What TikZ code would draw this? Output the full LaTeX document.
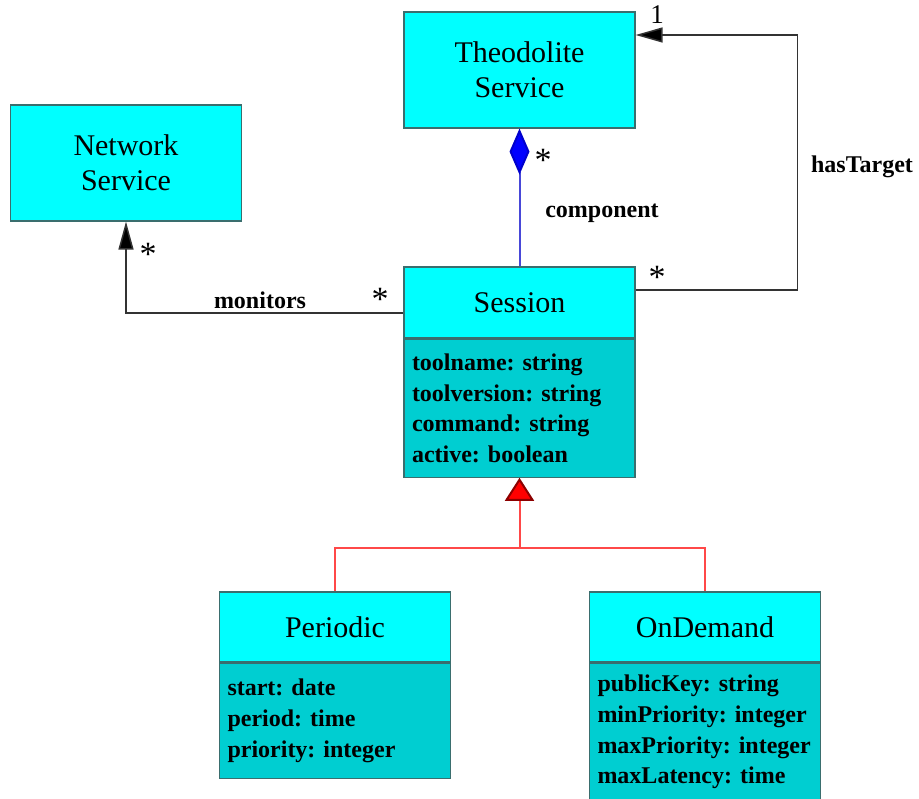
\documentclass[tikz,border=0pt]{standalone}
\usepackage{fontspec}
\setmainfont{Liberation Serif}
\usepackage[HTML]{xcolor}
\usetikzlibrary{positioning, arrows.meta}
\frenchspacing
\hyphenpenalty=10000

\definecolor{headcyan}{HTML}{00FFFF}
\definecolor{attrcyan}{HTML}{00CED1}
\definecolor{boxedge}{HTML}{3A6E6E}
\definecolor{complink}{HTML}{4848D8}
\definecolor{genlink}{HTML}{FF4848}

\tikzset{
  classhead/.style={draw=boxedge, line width=1.2pt, fill=headcyan, minimum width=231pt,
    align=center, font=\fontsize{30}{35}\selectfont, inner sep=0pt},
  classattr/.style={draw=boxedge, line width=1.2pt, fill=attrcyan, text width=219pt,
    inner xsep=6pt, inner ysep=0pt, align=left, anchor=north,
    font=\fontsize{24}{30.7}\selectfont\bfseries},
  assoc/.style={line width=1.5pt, draw=black!80},
  mult/.style={font=\fontsize{34}{34}\selectfont, inner sep=0pt},
  rolename/.style={font=\fontsize{24}{24}\selectfont\bfseries, inner sep=0pt}
}

\begin{document}
\begin{tikzpicture}[x=1pt, y=-1pt]
\useasboundingbox (0,0) rectangle (919,799);

% classes
\node[classhead, minimum height=116pt] (theo) at (519.5,70) {Theodolite\\Service};
\node[classhead, minimum height=116pt] (net) at (126,163) {Network\\Service};

\node[classhead, minimum height=71pt] (sess) at (519.5,302.5) {Session};
\node[classattr, minimum height=138pt] (sessattr) at (sess.south)
  {\hspace{2pt}toolname: string\\\hspace{2pt}toolversion: string\\\hspace{2pt}command: string\\\hspace{2pt}active: boolean};

\node[classhead, minimum height=70pt] (per) at (335,627) {Periodic};
\node[classattr, minimum height=115pt] (perattr) at (per.south)
  {\hspace{2pt}start: date\\\hspace{2pt}period: time\\\hspace{2pt}priority: integer};

\node[classhead, minimum height=70pt] (ond) at (705,627) {OnDemand};
\node[classattr, minimum height=138pt] (ondattr) at (ond.south)
  {\hspace{2pt}publicKey: string\\\hspace{2pt}minPriority: integer\\\hspace{2pt}maxPriority: integer\\\hspace{2pt}maxLatency: time};

% composition
\draw[line width=2pt, draw=complink, -{Diamond[length=46pt, width=20pt, fill=blue, color=blue!80!black]}]
  (sess.north) -- (theo.south);
\node[mult] at (543,160) {*};
\node[rolename] at (602,213) {component};

% hasTarget
\draw[assoc, -{Triangle[length=27pt, width=15pt, fill=black]}]
  ([yshift=12.5pt]sess.east) -- ++(162,0) |- ([yshift=35pt]theo.east);
\node[mult, font=\fontsize{27}{27}\selectfont] at (657,15) {1};
\node[mult] at (657,277) {*};
\node[rolename] at (862,167) {hasTarget};

% monitors
\draw[assoc, -{Triangle[length=28pt, width=15pt, fill=black]}]
  ([yshift=-10.5pt]sess.west) -| (net.south);
\node[mult] at (148,254) {*};
\node[mult] at (380,299) {*};
\node[rolename] at (260,300) {monitors};

% generalization
\coordinate (fork) at ([yshift=-70pt]sessattr.south);
\draw[line width=2pt, draw=genlink] (per.north) |- (fork) -| (ond.north);
\draw[line width=2pt, draw=genlink, -{Triangle[length=23pt, width=29pt, fill=red, color=red!55!black]}]
  (fork) -- (sessattr.south);
\end{tikzpicture}
\end{document}
